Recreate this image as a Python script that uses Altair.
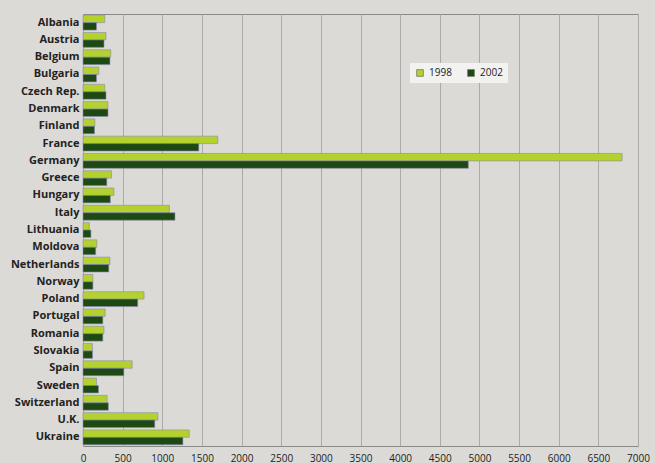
import altair as alt
import pandas as pd

countries = ["Albania", "Austria", "Belgium", "Bulgaria", "Czech Rep.", "Denmark", "Finland",
             "France", "Germany", "Greece", "Hungary", "Italy", "Lithuania", "Moldova",
             "Netherlands", "Norway", "Poland", "Portugal", "Romania", "Slovakia", "Spain",
             "Sweden", "Switzerland", "U.K.", "Ukraine"]
v1998 = [275, 290, 350, 200, 275, 315, 150, 1700, 6800, 360, 390, 1090, 80, 175,
         340, 125, 770, 280, 265, 120, 620, 170, 305, 945, 1340]
v2002 = [170, 265, 340, 170, 290, 315, 145, 1460, 4860, 300, 345, 1160, 100, 160,
         325, 125, 690, 250, 250, 120, 515, 195, 320, 905, 1260]
years = ["1998", "2002"]
ticks = list(range(0, 7001, 500))

rows = []
for c, a, b in zip(countries, v1998, v2002):
    rows.append({"country": c, "year": years[0], "value": a})
    rows.append({"country": c, "year": years[1], "value": b})
df = pd.DataFrame(rows)

chart = alt.Chart(df).mark_bar(stroke="#8a86b0", strokeWidth=0.6).encode(
    x=alt.X("value:Q", scale=alt.Scale(domain=[0, 7000], nice=False),
            axis=alt.Axis(values=ticks, format="d", title=None, grid=True, gridColor="#acaba8",
                          ticks=False, domain=False, labelFontSize=10, labelColor="#222",
                          labelPadding=7, labelFont="Open Sans", labelFlush=False)),
    y=alt.Y("country:N", sort=countries,
            scale=alt.Scale(paddingInner=0.14, paddingOuter=0.07),
            axis=alt.Axis(title=None, ticks=False, domain=False, labelFontSize=11,
                          labelFontWeight="bold", labelColor="#222", labelPadding=4,
                          labelFont="Open Sans")),
    yOffset=alt.YOffset("year:N", sort=years),
    color=alt.Color("year:N", sort=years,
                    scale=alt.Scale(domain=years, range=["#b4d22e", "#1d4a12"]),
                    legend=alt.Legend(title=None, orient="none", legendX=327, legendY=49,
                                      direction="horizontal", fillColor="#f2f2f0",
                                      padding=5, symbolType="square", symbolSize=45,
                                      symbolStrokeColor="#555", symbolStrokeWidth=0.6,
                                      labelFontSize=10, labelFont="Open Sans",
                                      labelColor="#222", columnPadding=14)),
).properties(
    width=555, height=432,
    background="#dcdad6",
    padding={"left": 83, "top": 14, "right": 17, "bottom": 17},
    autosize=alt.AutoSizeParams(type="none"),
).configure_view(stroke="#8a8a8a", strokeWidth=1, fill="#dcdad6")

chart.save("out.html", embed_options={"renderer": "svg", "actions": False})
